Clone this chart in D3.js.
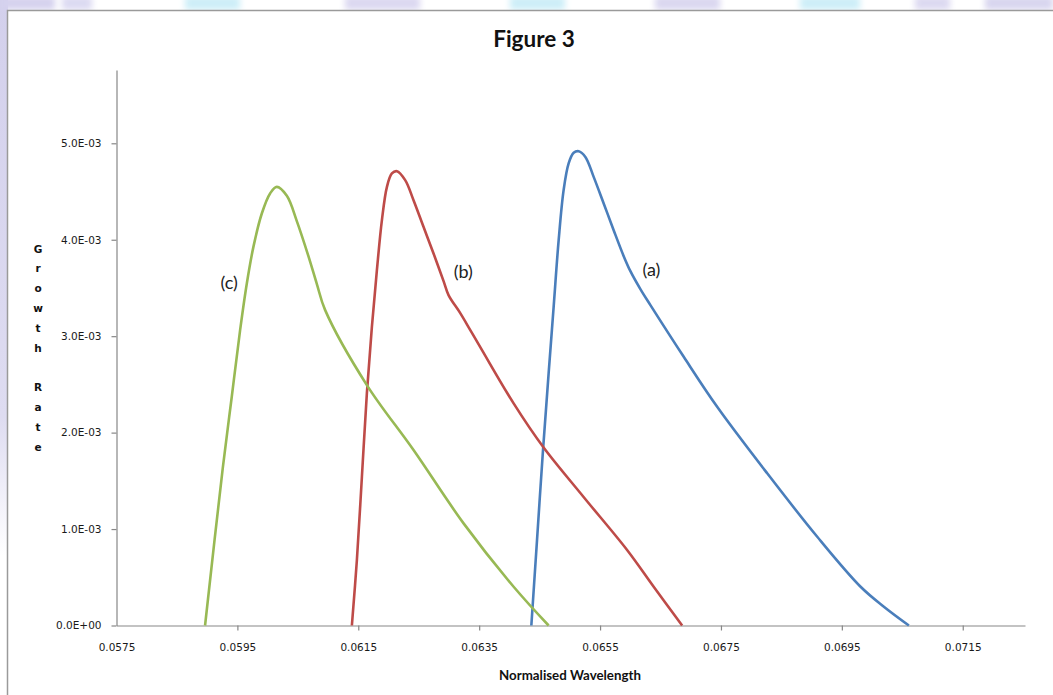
<!DOCTYPE html>
<html>
<head>
<meta charset="utf-8">
<script src="https://cdn.jsdelivr.net/npm/d3@7"></script>
<style>
  html, body { margin: 0; padding: 0; background: #fff; }
  svg { display: block; }
</style>
</head>
<body>
<div id="chart"></div>
<script>
var width = 1053;
var height = 695;

// series (a), (b), (c): normalised wavelength vs growth rate
var seriesNames = ['(a)', '(b)', '(c)'];
var seriesColors = ['#4a7ebb', '#be4b48', '#98b954'];

var aX = [0.064363, 0.064457, 0.064556, 0.064649, 0.064732, 0.064815, 0.064897, 0.064980, 0.065063, 0.065146,
          0.065257, 0.065394, 0.065560, 0.065725, 0.065891, 0.066002, 0.066167, 0.066333, 0.066884, 0.067437,
          0.068265, 0.069093, 0.069810, 0.070195, 0.070609];
var aY = [0, 0.000886, 0.001819, 0.002614, 0.003304, 0.003996, 0.004514, 0.004791, 0.004901, 0.004918,
          0.004859, 0.004652, 0.004376, 0.004099, 0.003830, 0.003674, 0.003488, 0.003322, 0.002786, 0.002268,
          0.001578, 0.000920, 0.000402, 0.000195, 0];

var bX = [0.061394, 0.061477, 0.061560, 0.061642, 0.061725, 0.061808, 0.061891, 0.061974, 0.062056, 0.062139,
          0.062276, 0.062414, 0.062579, 0.062745, 0.062911, 0.062993, 0.063187, 0.063353, 0.063518, 0.064070,
          0.064566, 0.065224, 0.065947, 0.066387, 0.066858];
var bY = [0, 0.000679, 0.001542, 0.002407, 0.003097, 0.003685, 0.004203, 0.004548, 0.004687, 0.004711,
          0.004618, 0.004410, 0.004134, 0.003858, 0.003571, 0.003426, 0.003239, 0.003063, 0.002887, 0.002303,
          0.001845, 0.001335, 0.000783, 0.000402, 0];

var cX = [0.058965, 0.059258, 0.059407, 0.059545, 0.059656, 0.059765, 0.059904, 0.060041, 0.060152, 0.060318,
          0.060483, 0.060675, 0.060815, 0.060952, 0.061642, 0.062414, 0.063242, 0.064070, 0.064649];
var cY = [0, 0.001632, 0.002372, 0.003063, 0.003547, 0.003926, 0.004272, 0.004480, 0.004548, 0.004455,
          0.004193, 0.003830, 0.003540, 0.003270, 0.002493, 0.001819, 0.001059, 0.000402, 0];

// where the (a) (b) (c) tags sit, in data units
var labelX = [0.066349, 0.063237, 0.059363];
var labelY = [0.003685, 0.003664, 0.003550];

var xTicks = [0.0575, 0.0595, 0.0615, 0.0635, 0.0655, 0.0675, 0.0695, 0.0715];
var yTicks = [0, 0.001, 0.002, 0.003, 0.004, 0.005];
var yTickLabels = ['0.0E+00', '1.0E-03', '2.0E-03', '3.0E-03', '4.0E-03', '5.0E-03'];

var xs = [aX, bX, cX];
var ys = [aY, bY, cY];

var svg = d3.select('#chart')
  .append('svg')
  .attr('width', width)
  .attr('height', height);

// page background bits around the embedded chart
var defs = svg.append('defs');
var grad = defs.append('linearGradient')
  .attr('id', 'leftStrip')
  .attr('x1', 0).attr('y1', 0).attr('x2', 0).attr('y2', 1);
grad.append('stop').attr('offset', '0%').attr('stop-color', '#d3d0ec');
grad.append('stop').attr('offset', '60%').attr('stop-color', '#dedcf1');
grad.append('stop').attr('offset', '80%').attr('stop-color', '#ffffff');
defs.append('filter').attr('id', 'blur')
  .append('feGaussianBlur').attr('stdDeviation', 3);

svg.append('rect').attr('x', 0).attr('y', 0).attr('width', 8).attr('height', height)
  .attr('fill', 'url(#leftStrip)');

var stripBlocks = [[0, 55, '#d5d2ee'], [62, 92, '#dcdaf2'], [185, 240, '#cdeef8'], [345, 420, '#dbd8f1'],
                   [510, 565, '#cdeef8'], [655, 720, '#dad7f0'], [800, 860, '#cdeef8'], [915, 950, '#dcd9f1'],
                   [985, 1053, '#d8d5ef']];
svg.append('g').attr('filter', 'url(#blur)')
  .selectAll('rect')
  .data(stripBlocks)
  .enter()
  .append('rect')
  .attr('x', d => d[0])
  .attr('y', -4)
  .attr('width', d => d[1] - d[0])
  .attr('height', 14)
  .attr('fill', d => d[2]);

svg.append('rect')
  .attr('x', 7.5).attr('y', 10.5)
  .attr('width', width + 20).attr('height', height + 20)
  .attr('fill', '#fff')
  .attr('stroke', '#9a9a9a')
  .attr('stroke-width', 1.5);

var padLeft = 116.5;
var padRight = 1025;
var padTop = 70;
var padBottom = 625.5;

var xScale = d3.scaleLinear()
  .domain([0.0575, 0.07253])
  .range([padLeft, padRight]);

var yScale = d3.scaleLinear()
  .domain([0, 0.00576])
  .range([padBottom, padTop]);

// axes
var xAxis = d3.axisBottom(xScale)
  .tickValues(xTicks)
  .tickFormat(d3.format('.4f'))
  .tickSize(5)
  .tickPadding(13)
  .tickSizeOuter(0);

var yAxis = d3.axisLeft(yScale)
  .tickValues(yTicks)
  .tickFormat((d, i) => yTickLabels[i])
  .tickSize(5)
  .tickPadding(10)
  .tickSizeOuter(0);

var gx = svg.append('g')
  .attr('transform', 'translate(0,' + padBottom + ')')
  .call(xAxis);

var gy = svg.append('g')
  .attr('transform', 'translate(' + padLeft + ',0)')
  .call(yAxis);

[gx, gy].forEach(g => {
  g.selectAll('path, line').attr('stroke', '#878787').attr('stroke-width', 1.2);
  g.selectAll('text')
    .attr('fill', '#1a1a1a')
    .style('font-family', '"DejaVu Sans", sans-serif')
    .style('font-size', '10.5px');
});
// the first x tick has a label but no mark
gx.select('.tick line').remove();

// curves
var line = d3.line()
  .x(d => xScale(d[0]))
  .y(d => yScale(d[1]))
  .curve(d3.curveCatmullRom.alpha(0.5));

var series = seriesNames.map((name, i) => ({
  name: name,
  color: seriesColors[i],
  points: xs[i].map((x, j) => [x, ys[i][j]])
}));

svg.selectAll('.series')
  .data(series)
  .enter()
  .append('path')
  .attr('class', 'series')
  .attr('d', d => line(d.points))
  .attr('fill', 'none')
  .attr('stroke', d => d.color)
  .attr('stroke-width', 2.6)
  .attr('stroke-linejoin', 'round');

svg.selectAll('.tag')
  .data(seriesNames)
  .enter()
  .append('text')
  .attr('class', 'tag')
  .attr('x', (d, i) => xScale(labelX[i]))
  .attr('y', (d, i) => yScale(labelY[i]))
  .attr('dy', '0.35em')
  .attr('text-anchor', 'middle')
  .attr('fill', '#222')
  .style('font-family', 'Lato, sans-serif')
  .style('font-size', '18px')
  .text(d => d);

// titles
svg.append('text')
  .attr('x', 534)
  .attr('y', 47)
  .attr('text-anchor', 'middle')
  .attr('fill', '#111')
  .style('font-family', 'Lato, sans-serif')
  .style('font-weight', 'bold')
  .style('font-size', '22.5px')
  .text('Figure 3');

svg.append('text')
  .attr('x', 570)
  .attr('y', 680)
  .attr('text-anchor', 'middle')
  .attr('fill', '#111')
  .style('font-family', 'Lato, sans-serif')
  .style('font-weight', 'bold')
  .style('font-size', '13.3px')
  .text('Normalised Wavelength');

var yTitle = 'Growth Rate'.split('');
svg.append('g')
  .selectAll('text')
  .data(yTitle)
  .enter()
  .append('text')
  .attr('x', 38)
  .attr('y', (d, i) => 249 + i * 19.8)
  .attr('dy', '0.35em')
  .attr('text-anchor', 'middle')
  .attr('fill', '#111')
  .style('font-family', '"DejaVu Sans", sans-serif')
  .style('font-weight', 'bold')
  .style('font-size', '10.5px')
  .text(d => d);
</script>
</body>
</html>
